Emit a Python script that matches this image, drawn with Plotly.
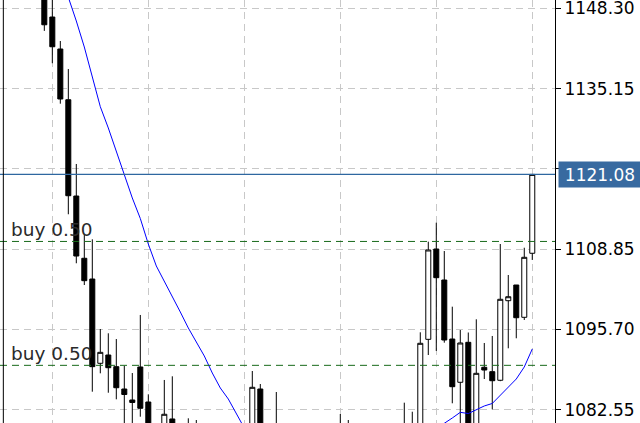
import plotly.graph_objects as go

# ---- data ----
candle_idx = [0, 1, 2, 3, 4, 5, 6, 7, 8, 9, 10, 11, 12, 13, 15, 16, 18, 19,
              26, 27, 29, 37, 38, 45, 46, 47, 48, 49, 50, 51, 52, 53, 54, 55,
              56, 57, 58, 59, 60, 61]
opens = [1151.0, 1146.87, 1141.63, 1133.32, 1117.54, 1107.34, 1103.94, 1090.13,
         1091.49, 1089.58, 1085.92, 1084.12, 1089.53, 1083.79, 1079.0, 1081.01,
         1079.8, 1079.9, 1079.2, 1085.92, 1079.9, 1079.6, 1079.8, 1079.5, 1079.4,
         1079.4, 1094.06, 1108.86, 1103.78, 1094.11, 1087.02, 1093.57, 1079.8,
         1089.48, 1088.76, 1087.35, 1100.39, 1102.96, 1097.67, 1108.16]
highs = [1152.0, 1150.5, 1142.94, 1138.35, 1122.79, 1111.3, 1110.45, 1095.75,
         1095.05, 1094.11, 1089.74, 1088.54, 1098.05, 1085.05, 1087.4, 1088.0,
         1081.12, 1080.84, 1088.87, 1086.74, 1085.43, 1081.82, 1080.84, 1083.68,
         1082.2, 1095.21, 1110.06, 1113.17, 1108.53, 1099.41, 1095.59, 1095.18,
         1097.34, 1093.46, 1094.61, 1109.68, 1104.6, 1102.96, 1109.07, 1121.08]
lows = [1144.6, 1139.3, 1132.67, 1114.55, 1106.52, 1102.96, 1085.48, 1088.49,
        1085.31, 1084.23, 1079.5, 1079.0, 1081.38, 1078.5, 1078.6, 1078.2,
        1078.5, 1078.7, 1078.8, 1078.6, 1078.4, 1078.6, 1078.9, 1078.9, 1078.8,
        1078.9, 1091.49, 1092.15, 1093.51, 1083.58, 1079.5, 1078.8, 1079.2,
        1087.56, 1082.59, 1087.2, 1092.59, 1094.23, 1097.23, 1107.06]
closes = [1145.6, 1142.0, 1133.44, 1117.59, 1107.71, 1103.67, 1089.58, 1091.93,
          1089.41, 1086.13, 1085.02, 1083.71, 1082.76, 1079.2, 1081.78, 1079.0,
          1079.2, 1079.3, 1086.2, 1079.4, 1079.1, 1079.2, 1079.3, 1079.9, 1079.9,
          1093.41, 1108.7, 1104.16, 1093.95, 1086.3, 1093.46, 1079.6, 1088.49,
          1089.03, 1087.28, 1100.62, 1101.04, 1097.6, 1107.5, 1121.08]

ma_idx = list(range(2, 26)) + list(range(49, 62))
ma_vals = [1154.0, 1150.15, 1146.22, 1141.96, 1137.04, 1132.18, 1128.69, 1124.92,
           1120.82, 1117.22, 1113.86, 1109.68, 1106.08, 1103.62, 1101.16, 1098.54,
           1095.92, 1093.62, 1091.33, 1088.54, 1086.09, 1084.28, 1082.0, 1079.53,
           1079.2, 1080.3, 1081.17, 1082.1, 1081.9, 1082.48, 1083.14, 1083.55,
           1084.94, 1086.17, 1087.56, 1089.53, 1092.48]

buy_levels = [1110.1, 1089.8]
buy_labels = ["buy 0.50", "buy 0.50"]

y_tick_vals = [1082.55, 1095.70, 1108.85, 1122.00, 1135.15, 1148.30]
y_tick_text = ["1082.55", "1095.70", "1108.85", "", "1135.15", "1148.30"]
x_grid_idx = [1, 13, 25, 37, 49, 61]

last_price = closes[-1]

# ---- figure ----
FONT = "DejaVu Sans"
fig = go.Figure()

seg1 = [(i, v) for i, v in zip(ma_idx, ma_vals) if i <= 25]
seg2 = [(i, v) for i, v in zip(ma_idx, ma_vals) if i >= 49]
for seg in (seg1, seg2):
    fig.add_trace(go.Scatter(x=[s[0] for s in seg], y=[s[1] for s in seg],
                             mode="lines", line=dict(color="#0000ff", width=1),
                             hoverinfo="skip", showlegend=False))

fig.add_trace(go.Candlestick(
    x=candle_idx, open=opens, high=highs, low=lows, close=closes,
    increasing=dict(line=dict(color="#000000", width=1), fillcolor="#ffffff"),
    decreasing=dict(line=dict(color="#000000", width=1), fillcolor="#000000"),
    whiskerwidth=0, showlegend=False))

shapes = []
for lvl in buy_levels:
    shapes.append(dict(type="line", xref="paper", x0=0, x1=1, yref="y", y0=lvl, y1=lvl,
                       line=dict(color="#17691a", width=1, dash="7px,5px"), layer="above"))
shapes.append(dict(type="line", xref="paper", x0=0, x1=1, yref="y", y0=last_price, y1=last_price,
                   line=dict(color="#2e67a0", width=1.2), layer="above"))
shapes.append(dict(type="line", xref="paper", x0=0.006, x1=0.006, yref="paper", y0=0, y1=1,
                   line=dict(color="#000000", width=1), layer="above"))

annotations = []
for lvl, txt in zip(buy_levels, buy_labels):
    annotations.append(dict(x=0, xref="paper", xanchor="left", xshift=9,
                            y=lvl, yref="y", yanchor="bottom", yshift=-1,
                            text=txt, showarrow=False,
                            font=dict(family=FONT, size=18.5, color="#2a2a2a")))
annotations.append(dict(x=1, xref="paper", xanchor="left", xshift=3,
                        y=last_price, yref="y", yanchor="middle",
                        text=f"{last_price:.2f}", showarrow=False,
                        bgcolor="#386aa0", width=80, height=23,
                        font=dict(family=FONT, size=17, color="#ffffff")))

fig.update_layout(
    width=640, height=423,
    margin=dict(l=0, r=85, t=0, b=0, autoexpand=False),
    paper_bgcolor="#ffffff", plot_bgcolor="#ffffff",
    boxgap=0.375, boxgroupgap=0,
    showlegend=False,
    shapes=shapes, annotations=annotations,
    xaxis=dict(range=[-5.54, 63.84], rangeslider=dict(visible=False),
               tickmode="array", tickvals=x_grid_idx, showticklabels=False,
               showgrid=True, gridcolor="#c8c8c8", gridwidth=1, griddash="7px,5px",
               zeroline=False, showline=False, ticks="", automargin=False),
    yaxis=dict(side="right", range=[1080.35, 1149.66], automargin=False,
               tickmode="array", tickvals=y_tick_vals, ticktext=y_tick_text,
               ticklabeloverflow="allow",
               showgrid=True, gridcolor="#c8c8c8", gridwidth=1, griddash="7px,5px",
               zeroline=False, showline=True, linecolor="#000000", linewidth=1,
               ticks="outside", ticklen=5, tickcolor="#000000", tickwidth=1,
               tickfont=dict(family=FONT, size=17, color="#000000")),
)

fig.write_html("out.html", config={"displayModeBar": False},
               post_script="document.body.style.margin='0';document.body.style.overflow='hidden';")
